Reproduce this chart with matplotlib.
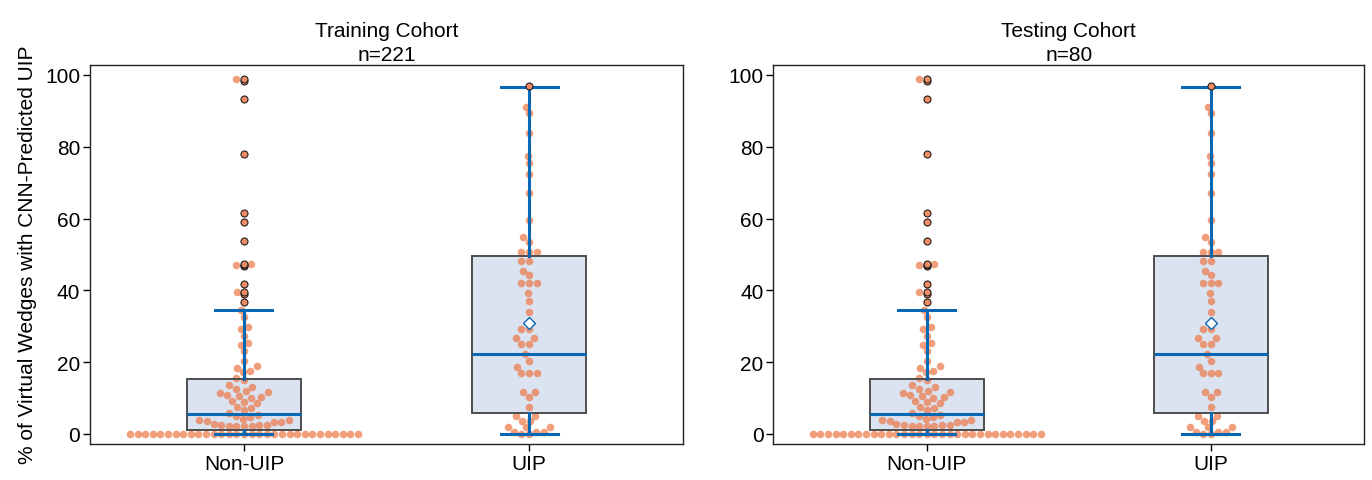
import numpy as np
import matplotlib
matplotlib.use("Agg")
import matplotlib.pyplot as plt

plt.rcParams['font.family'] = ['Liberation Sans', 'DejaVu Sans']

# ---------------- data ----------------
categories = ["Non-UIP", "UIP"]
titles = ["Training Cohort\nn=221", "Testing Cohort\nn=80"]
ylabel = "% of Virtual Wedges with CNN-Predicted UIP"
yticks = [0, 20, 40, 60, 80, 100]

nonuip_train = ([0.0] * 31 +
                [2.2, 2.2, 2.3, 2.3, 2.4, 2.4, 2.5, 2.7, 3.3, 3.4, 3.6, 3.8, 4.0, 4.3, 4.7,
                 5.1, 5.4, 5.8, 6.8, 7.2, 7.6, 8.7, 9.0, 9.3, 10.0, 10.4, 10.7, 10.9,
                 11.3, 11.6, 11.9, 12.6, 13.0, 13.5, 15.1, 15.5, 17.2, 17.6, 18.4, 18.8,
                 20.4, 23.0, 24.9, 25.3, 27.4, 29.3, 29.8, 32.5, 34.5] +
                [36.8, 39.0, 39.6, 41.7, 46.8, 47.0, 47.2, 53.8, 59.0, 61.6, 78.0, 93.4,
                 98.4, 98.8])
uip_train = [0.0, 0.0, 0.5, 0.5, 0.5, 1.9, 1.9, 1.9, 3.7, 3.7, 5.1, 5.1, 7.5, 10.3,
             11.7, 11.7, 16.9, 16.9, 16.9, 18.6, 20.4, 22.2, 25.1, 25.1, 26.7, 26.7,
             29.2, 29.2, 34.1, 37.1, 39.2, 42.1, 42.1, 42.1, 44.3, 45.5, 48.3, 48.3,
             50.6, 50.7, 50.8, 53.6, 54.8, 59.7, 67.0, 72.4, 75.4, 77.5,
             83.8, 89.3, 91.2, 97.0]
nonuip_test = list(nonuip_train)
uip_test = list(uip_train)

# box statistics: [Non-UIP, UIP]
whislo = [0.0, 0.0]
q1 = [1.1, 5.8]
med = [5.5, 22.2]
q3 = [15.3, 49.5]
whishi = [34.6, 96.7]
means = [None, 30.8]

# ---------------- style ----------------
DOT = '#EC7E50'
FLIER = '#F08C64'
BLUE = '#0868B4'
BOXFILL = '#DCE3F0'
BOXEDGE = '#4D4D4D'
DIAM = 7.6  # dot diameter in pixels
FS = 15

fig = plt.figure(figsize=(13.72, 4.81), dpi=100)
rects = [[90 / 1372, 1 - 445 / 481, 593 / 1372, 379.5 / 481],
         [773.3 / 1372, 1 - 445 / 481, 591 / 1372, 379.5 / 481]]
datasets = [[nonuip_train, uip_train], [nonuip_test, uip_test]]


def beeswarm(values, sx, sy, d):
    """Return horizontal offsets (data units) for a simple beeswarm layout."""
    vals = np.asarray(values, float)
    order = np.argsort(vals, kind='stable')
    placed = []  # (xpix, ypix)
    offs = np.zeros(len(vals))
    thr = d
    for i in order:
        y = vals[i] * sy
        near = [(px, py) for px, py in placed if abs(py - y) < thr]
        cands = [0.0]
        for px, py in near:
            dx = np.sqrt(max(thr ** 2 - (py - y) ** 2, 0.0))
            cands += [px + dx + 1e-6, px - dx - 1e-6]
        cands.sort(key=lambda c: (abs(c), c))
        for c in cands:
            if all((c - px) ** 2 + (y - py) ** 2 >= thr ** 2 - 1e-6 for px, py in near):
                offs[i] = c / sx
                placed.append((c, y))
                break
    return offs


for k, ax in enumerate([fig.add_axes(r) for r in rects]):
    ax.set_xlim(-0.54, 1.54)
    ax.set_ylim(-2.8, 102.9)
    p0 = ax.transData.transform((0, 0))
    p1 = ax.transData.transform((1, 1))
    sx, sy = p1[0] - p0[0], p1[1] - p0[1]

    stats = []
    for j in range(2):
        data = datasets[k][j]
        fl = [v for v in data if v > whishi[j]]
        stats.append(dict(whislo=whislo[j], q1=q1[j], med=med[j], q3=q3[j],
                          whishi=whishi[j], fliers=fl, label=categories[j]))

    # box fill below everything
    ax.bxp(stats, positions=[0, 1], widths=0.4, patch_artist=True, showfliers=False,
           showcaps=False, manage_ticks=False,
           boxprops=dict(facecolor=BOXFILL, edgecolor='none'),
           whiskerprops=dict(linewidth=0), medianprops=dict(linewidth=0), zorder=1)

    # swarm
    for j in range(2):
        data = datasets[k][j]
        off = beeswarm(data, sx, sy, DIAM)
        ax.scatter(j + off, data, s=(DIAM * 0.72) ** 2, color=DOT, alpha=0.75,
                   linewidths=0, zorder=2)

    # box outlines, whiskers, caps, medians, fliers
    ax.bxp(stats, positions=[0, 1], widths=0.4, capwidths=0.2, patch_artist=True,
           showfliers=True, manage_ticks=False,
           boxprops=dict(facecolor='none', edgecolor=BOXEDGE, linewidth=1.4),
           whiskerprops=dict(color=BLUE, linewidth=2.2),
           capprops=dict(color=BLUE, linewidth=2.2),
           medianprops=dict(color=BLUE, linewidth=2.2),
           flierprops=dict(marker='o', markerfacecolor=FLIER, markeredgecolor='#222222',
                           markeredgewidth=0.8, markersize=5.0, linestyle='none'),
           zorder=3)

    # means
    for j in range(2):
        if means[j] is not None:
            ax.plot([j], [means[j]], marker='D', markerfacecolor='white',
                    markeredgecolor=BLUE, markeredgewidth=1.0, markersize=6.5,
                    linestyle='none', zorder=4)

    ax.set_xticks([0, 1])
    ax.set_xticklabels(categories, fontsize=FS)
    ax.set_yticks(yticks)
    ax.set_yticklabels([str(t) for t in yticks], fontsize=FS)
    ax.tick_params(direction='out', length=5, width=1, pad=2)
    for s in ax.spines.values():
        s.set_linewidth(1.0)
        s.set_color('#222222')
    ax.set_title(titles[k], fontsize=FS, pad=3, linespacing=1.35)
    if k == 0:
        ax.set_ylabel(ylabel, fontsize=FS, labelpad=6)

fig.savefig("out.png", dpi=100)
